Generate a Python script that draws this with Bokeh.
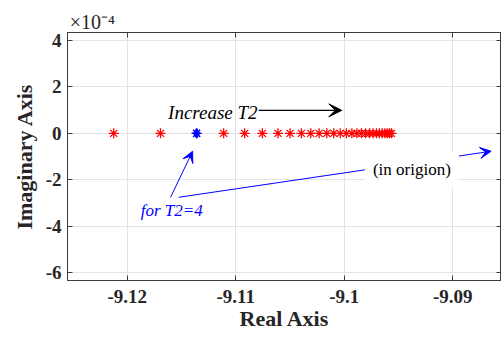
from bokeh.plotting import figure
from bokeh.models import Range1d, LinearAxis, FixedTicker, Label, Arrow, VeeHead, CustomJSTickFormatter
from bokeh.embed import file_html
from bokeh.resources import INLINE

# Poles (real part) as T2 increases; imaginary parts are zero (in units of 1e-4)
real_red = [-9.12124, -9.11693, -9.11111, -9.10917, -9.10754, -9.10610, -9.10499,
            -9.10394, -9.10308, -9.10231, -9.10160, -9.10096, -9.10036, -9.09980,
            -9.09929, -9.09883, -9.09841, -9.09802, -9.09766, -9.09733, -9.09702,
            -9.09675, -9.09649, -9.09625, -9.09603, -9.09582, -9.09564]
imag_red = [0, 0, 0, 0, 0, 0, 0, 0, 0, 0, 0, 0, 0, 0,
            0, 0, 0, 0, 0, 0, 0, 0, 0, 0, 0, 0, 0]
real_blue = [-9.11360]
imag_blue = [0]

x_ticks = [-9.12, -9.11, -9.10, -9.09]
y_ticks = [-6, -4, -2, 0, 2, 4]
y_exponent = "\u00d710\u207b\u2074"
exponent_anchor = [-9.1232]

# annotation anchor points (data units)
inc_arrow = (-9.10788, 0.99, -9.10022, 0.99)
t2_arrow = (-9.11600, -2.75, -9.11397, -0.77)
orig_arrow = (-9.11526, -2.75, -9.08646, -0.77)

FONT = "Liberation Serif"
IFONT = "Times New Roman"
AX = "#3c3c3c"

p = figure(width=501, height=337, output_backend="svg", toolbar_location=None,
           x_range=Range1d(-9.1255, -9.0855), y_range=Range1d(-6.33, 4.34),
           min_border_left=67, min_border_right=0, min_border_top=32, min_border_bottom=57,
           background_fill_color="white", border_fill_color="white")
p.outline_line_color = AX

bottom = p.below[0]
left = p.left[0]
top = LinearAxis()
right = LinearAxis()
p.add_layout(top, "above")
p.add_layout(right, "right")

fmt = CustomJSTickFormatter(code="return Number(tick.toFixed(4)).toString();")
for ax in (bottom, top):
    ax.ticker = FixedTicker(ticks=x_ticks)
for ax in (left, right):
    ax.ticker = FixedTicker(ticks=y_ticks)
for ax in (bottom, top, left, right):
    ax.formatter = fmt
    ax.major_tick_in = 5
    ax.major_tick_out = 0
    ax.minor_tick_in = 0
    ax.minor_tick_out = 0
    ax.axis_line_color = AX
    ax.major_tick_line_color = AX
    ax.major_label_text_font = FONT
    ax.major_label_text_font_style = "bold"
    ax.major_label_text_font_size = "19px"
    ax.major_label_text_color = "#262626"
    ax.axis_label_text_font = FONT
    ax.axis_label_text_font_style = "bold"
    ax.axis_label_text_font_size = "22px"
    ax.axis_label_text_color = "#262626"
for ax in (top, right):
    ax.major_label_text_font_size = "0px"
    ax.major_label_standoff = 0
    ax.axis_label = None

# exponent of the y axis ("x10^-4"), shown as the single label of an extra top axis
exp_axis = LinearAxis(ticker=FixedTicker(ticks=exponent_anchor),
                      formatter=CustomJSTickFormatter(code="return %r;" % y_exponent),
                      axis_line_color=None, major_tick_line_color=None,
                      minor_tick_line_color=None, major_tick_in=0, major_tick_out=0,
                      minor_tick_in=0, minor_tick_out=0, major_label_standoff=0,
                      major_label_text_font=FONT, major_label_text_font_style="normal",
                      major_label_text_font_size="20px", major_label_text_color="#262626")
p.add_layout(exp_axis, "above")

bottom.axis_label = "Real Axis"
left.axis_label = "Imaginary Axis"
bottom.major_label_standoff = 9
bottom.axis_label_standoff = 0
left.major_label_standoff = 6
left.axis_label_standoff = 6

p.xgrid.ticker = FixedTicker(ticks=x_ticks)
p.ygrid.ticker = FixedTicker(ticks=y_ticks)
p.grid.grid_line_color = "#e3e3e3"
p.grid.grid_line_width = 1

# markers
p.scatter(real_red, imag_red, marker="asterisk", size=10, line_color="red", line_width=1.3)
p.scatter(real_blue, imag_blue, marker="asterisk", size=10, line_color="blue", line_width=1.5)
p.scatter(real_blue, imag_blue, marker="diamond", size=9, line_color="blue", fill_color=None, line_width=1.2)

# annotations
p.add_layout(Arrow(end=VeeHead(size=13, fill_color="black", line_color="black"),
                   x_start=inc_arrow[0], y_start=inc_arrow[1], x_end=inc_arrow[2], y_end=inc_arrow[3],
                   line_color="black", line_width=1.3))
p.add_layout(Label(x=inc_arrow[0] - 0.0001, y=0.88, text="Increase T2", text_align="right",
                   text_baseline="middle", text_font=IFONT, text_font_style="italic",
                   text_font_size="19px", text_color="black"))

p.add_layout(Arrow(end=VeeHead(size=11, fill_color="blue", line_color="blue"),
                   x_start=t2_arrow[0], y_start=t2_arrow[1], x_end=t2_arrow[2], y_end=t2_arrow[3],
                   line_color="blue", line_width=1))
p.add_layout(Arrow(end=VeeHead(size=11, fill_color="blue", line_color="blue"),
                   x_start=orig_arrow[0], y_start=orig_arrow[1], x_end=orig_arrow[2], y_end=orig_arrow[3],
                   line_color="blue", line_width=1))
p.add_layout(Label(x=-9.09376, y=-1.55, text="(in origion)", text_align="center",
                   text_baseline="middle", text_font=FONT, text_font_size="17px",
                   text_color="black", background_fill_color="white", padding=8))
p.add_layout(Label(x=-9.11590, y=-3.31, text="for T2=4", text_align="center",
                   text_baseline="middle", text_font=IFONT, text_font_style="italic",
                   text_font_size="17px", text_color="blue"))

open("out.html", "w").write(file_html(p, INLINE))
